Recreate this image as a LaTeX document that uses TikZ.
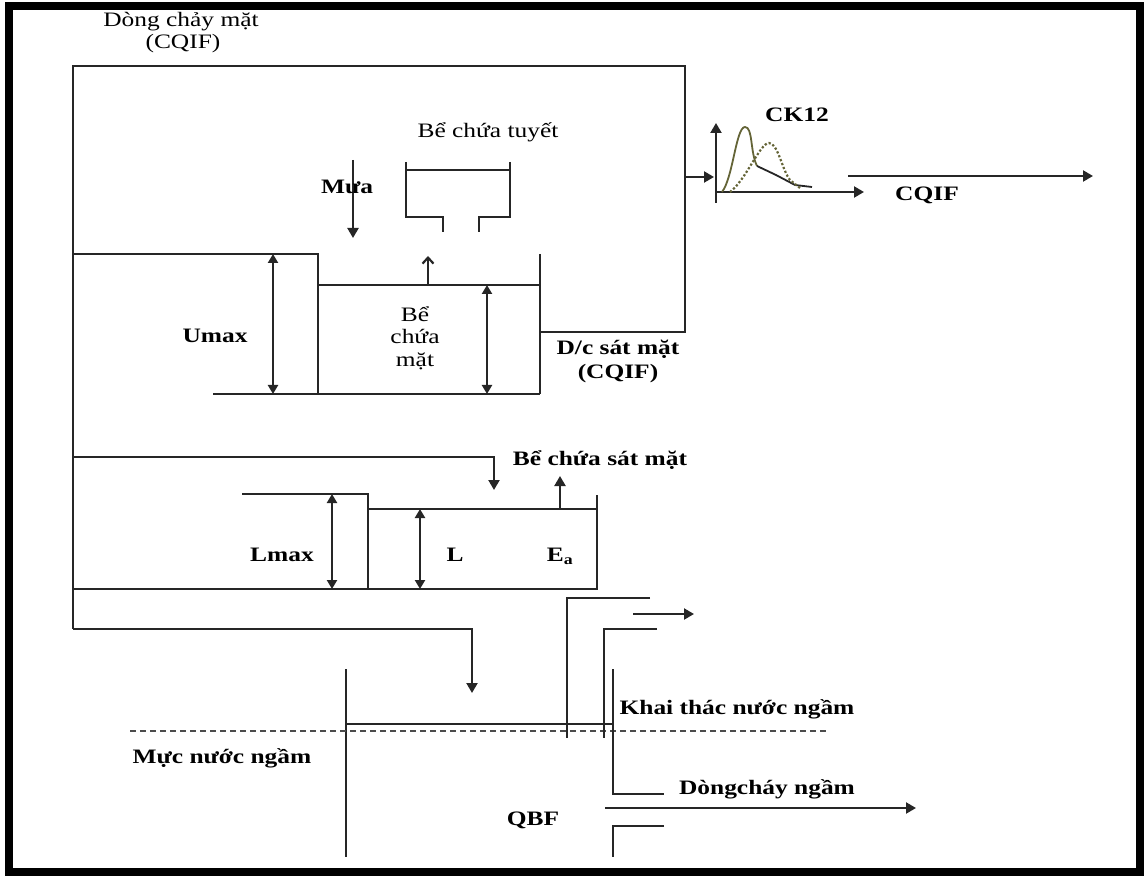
\documentclass[tikz,border=0pt]{standalone}
\usepackage{fontspec}
\setmainfont[FakeStretch=1.24]{Liberation Serif}
\usetikzlibrary{arrows.meta}
\definecolor{peakolive}{RGB}{100,100,55}

\begin{document}
\begin{tikzpicture}[x=1pt,y=-1pt,
    pipe/.style={line width=2.2pt, black!85},
    flowarrow/.style={pipe, -{Triangle[length=10pt,width=11pt]}},
    dimarrow/.style={pipe, {Triangle[length=9pt,width=10pt]}-{Triangle[length=9pt,width=10pt]}},
    txt/.style={font=\fontsize{20.5}{23}\selectfont, inner sep=0pt},
    btxt/.style={font=\fontsize{20.5}{23}\selectfont\bfseries, inner sep=0pt}]

    \useasboundingbox (0,0) rectangle (1144,877);

    % Frame
    \draw[line width=8pt] (9,6) rectangle (1140,872);

    % Surface runoff loop
    \draw[pipe] (540,332) -- (685,332) -- (685,66) -- (73,66) -- (73,629);
    \node[txt] (dongmat) at (181,22) {Dòng chảy mặt};
    \node[txt] (dongmatq) at (183,44) {(CQIF)};

    % Snow tank
    \draw[pipe] (406,162) -- (406,217) -- (443,217) -- (443,232);
    \draw[pipe] (510,162) -- (510,217) -- (479,217) -- (479,232);
    \draw[pipe] (406,170) -- (510,170);
    \node[txt] (tuyet) at (488,132) {Bể chứa tuyết};

    % Rain
    \draw[flowarrow] (353,160) -- (353,238);
    \node[btxt] (mua) at (347,187) {Mưa};

    % Surface tank
    \draw[pipe] (73,254) -- (318,254) -- (318,394);
    \draw[pipe] (213,394) -- (540,394);
    \draw[pipe] (540,254) -- (540,394);
    \draw[pipe] (318,285) -- (540,285);
    \draw[dimarrow] (273,254) -- (273,394);
    \draw[dimarrow] (487,285) -- (487,394);
    \draw[pipe, -{Straight Barb[length=6pt,width=11pt]}] (428,285) -- (428,256);
    \node[btxt] (umax) at (215,336) {Umax};
    \node[txt, align=center, font=\fontsize{20.5}{22.5}\selectfont] (bemat) at (415,338) {Bể\\chứa\\mặt};
    \node[btxt, align=center, font=\fontsize{20.5}{24}\selectfont\bfseries] (dcsat) at (618,361) {D/c sát mặt\\(CQIF)};

    % CK12 hydrograph
    \draw[flowarrow] (685,177) -- (714,177);
    \draw[flowarrow] (716,203) -- (716,123);
    \draw[flowarrow] (716,192) -- (864,192);
    \draw[line width=1.8pt, peakolive] (722,192) .. controls (733,178) and (736,127) .. (745,127)
        .. controls (753,127) and (750,152) .. (757,166);
    \draw[line width=1.8pt, black!85] (757,166) -- (776,175) -- (795,185) -- (812,187);
    \draw[line width=2.2pt, peakolive, dotted] (730,192) .. controls (746,180) and (760,143) .. (769,143)
        .. controls (778,143) and (782,170) .. (790,180) -- (800,188);
    \node[btxt] (ck) at (797,115) {CK12};
    \draw[flowarrow] (848,176) -- (1093,176);
    \node[btxt] (cqif) at (927,195) {CQIF};

    % Subsurface tank
    \draw[flowarrow] (73,457) -- (494,457) -- (494,490);
    \draw[pipe] (73,589) -- (597,589) -- (597,495);
    \draw[pipe] (242,494) -- (368,494) -- (368,589);
    \draw[pipe] (368,509) -- (597,509);
    \draw[dimarrow] (332,494) -- (332,589);
    \draw[dimarrow] (420,509) -- (420,589);
    \draw[flowarrow] (560,509) -- (560,476);
    \node[btxt] (satmat) at (600,460) {Bể chứa sát mặt};
    \node[btxt] (lmax) at (282,555) {Lmax};
    \node[btxt] (lcur) at (455,555) {L};
    \node[btxt] (ea) at (560,556) {E\textsubscript{a}};

    % Percolation to groundwater
    \draw[flowarrow] (73,629) -- (472,629) -- (472,693);

    % Groundwater tank
    \draw[pipe] (346,669) -- (346,857);
    \draw[pipe] (346,724) -- (613,724);
    \draw[dashed, line width=1.3pt, black!70, dash pattern=on 6pt off 4pt] (130,731) -- (827,731);
    \draw[pipe] (613,669) -- (613,794) -- (664,794);
    \draw[pipe] (664,826) -- (613,826) -- (613,857);
    \draw[flowarrow] (605,808) -- (916,808);
    \node[btxt] (mucnuoc) at (222,758) {Mực nước ngầm};
    \node[btxt] (qbf) at (533,820) {QBF};
    \node[btxt] (dongngam) at (767,789) {Dòngcháy ngầm};

    % Pumping well
    \draw[pipe] (650,598) -- (567,598) -- (567,738);
    \draw[pipe] (657,629) -- (604,629) -- (604,738);
    \draw[flowarrow] (633,614) -- (694,614);
    \node[btxt] (khaithac) at (737,709) {Khai thác nước ngầm};

\end{tikzpicture}
\end{document}
